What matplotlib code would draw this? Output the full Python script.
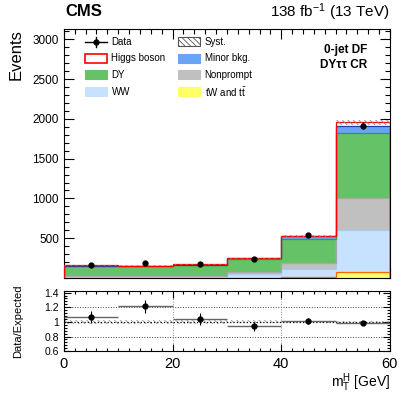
import numpy as np
import matplotlib
matplotlib.use('Agg')
import matplotlib.pyplot as plt
from matplotlib.patches import Rectangle
from matplotlib.ticker import MultipleLocator, FixedLocator

plt.rcParams['font.family'] = ['Liberation Sans', 'DejaVu Sans']
plt.rcParams['mathtext.fontset'] = 'custom'
plt.rcParams['mathtext.rm'] = 'Liberation Sans'
plt.rcParams['mathtext.it'] = 'Liberation Sans:italic'
plt.rcParams['mathtext.bf'] = 'Liberation Sans:bold'
plt.rcParams['hatch.linewidth'] = 0.6

# ---- data ----
bin_edges = [0, 10, 20, 30, 40, 50, 60]
tw_tt     = [3, 3, 4, 6, 15, 72]
ww        = [10, 10, 12, 40, 100, 526]
nonprompt = [8, 8, 8, 30, 80, 411]
dy        = [130, 126, 140, 160, 300, 812]
minor     = [6, 5, 6, 10, 28, 95]
higgs     = [3, 3, 3, 4, 7, 40]
data      = [170, 188, 180, 235, 535, 1915]
syst_frac = [0.025, 0.025, 0.025, 0.02, 0.015, 0.015]

edges = np.array(bin_edges, dtype=float)
centers = 0.5 * (edges[:-1] + edges[1:])
widths = np.diff(edges)

# stack order bottom -> top
stack = [
    (tw_tt,     '#ffff66', '#ff6600'),
    (ww,        '#c6e2ff', '#a8cdf5'),
    (nonprompt, '#c0c0c0', '#a8a8a8'),
    (dy,        '#66c266', '#3a9a3a'),
    (minor,     '#6aa4f5', '#1f3f9f'),
    (higgs,     '#ffffff', '#ff0000'),
]

fig = plt.figure(figsize=(4.07, 3.95), dpi=100)
ax = fig.add_axes([0.157, 0.296, 0.801, 0.631])
axr = fig.add_axes([0.157, 0.111, 0.801, 0.152])

bottom = np.zeros(len(centers))
for vals, fc, ec in stack:
    vals = np.array(vals, dtype=float)
    ax.bar(edges[:-1], vals, width=widths, bottom=bottom, align='edge',
           color=fc, linewidth=0, zorder=2)
    top = bottom + vals
    ax.stairs(top, edges, color=ec, linewidth=0.9, zorder=3)
    bottom = top
total = bottom

# Higgs outline drawn as full box like ROOT
ax.stairs(total, edges, color='#ff0000', linewidth=0.8, zorder=4, alpha=0.3,
          baseline=0)

# syst band
syst = total * np.array(syst_frac)
ax.bar(edges[:-1], 2 * syst, width=widths, bottom=total - syst, align='edge',
       facecolor='none', edgecolor='#888888', hatch='\\\\\\\\\\\\', linewidth=0,
       zorder=5)

data = np.array(data, dtype=float)
ax.errorbar(centers, data, yerr=np.sqrt(data), fmt='o', color='black',
            markersize=3.5, elinewidth=1, capsize=0, zorder=6)

ax.set_xlim(0, 60)
ax.set_ylim(0, 3130)
ax.yaxis.set_major_locator(FixedLocator([500, 1000, 1500, 2000, 2500, 3000]))
ax.yaxis.set_minor_locator(MultipleLocator(100))
ax.xaxis.set_major_locator(MultipleLocator(20))
ax.xaxis.set_minor_locator(MultipleLocator(2))
ax.set_xticklabels([])
ax.tick_params(which='both', direction='in', top=True, right=True, labelsize=8.5)
ax.tick_params(which='major', length=7, width=0.8)
ax.tick_params(which='minor', length=3.5, width=0.8)
ax.set_ylabel('Events', fontsize=12, loc='top', labelpad=4)

# legend, laid out like the ROOT one (two columns, four rows)
leg_rows = [0.948, 0.881, 0.815, 0.748]
leg_cols = [0.064, 0.350]
box_w, box_h = 0.069, 0.036
leg_items = [
    # (col, row, label, kind, facecolor, edgecolor)
    (0, 0, 'Data', 'data', None, None),
    (0, 1, 'Higgs boson', 'box', 'white', '#ff0000'),
    (0, 2, 'DY', 'box', '#66c266', '#66c266'),
    (0, 3, 'WW', 'box', '#c6e2ff', '#c6e2ff'),
    (1, 0, 'Syst.', 'hatch', 'white', '#555555'),
    (1, 1, 'Minor bkg.', 'box', '#6aa4f5', '#6aa4f5'),
    (1, 2, 'Nonprompt', 'box', '#c0c0c0', '#c0c0c0'),
    (1, 3, r'tW and t$\bar{\mathrm{t}}$', 'box', '#ffff66', '#ffff66'),
]
for col, row, lab, kind, fc, ec in leg_items:
    x0 = leg_cols[col]
    yc = leg_rows[row]
    if kind == 'data':
        ax.plot([x0, x0 + box_w], [yc, yc], color='black', lw=1,
                transform=ax.transAxes, zorder=7)
        ax.plot([x0 + box_w / 2] * 2, [yc - 0.02, yc + 0.02], color='black',
                lw=1, transform=ax.transAxes, zorder=7)
        ax.plot([x0 + box_w / 2], [yc], 'o', color='black', markersize=3.5,
                transform=ax.transAxes, zorder=7)
    else:
        lw = 1.2 if lab == 'Higgs boson' else 0.8
        ax.add_patch(Rectangle((x0, yc - box_h / 2), box_w, box_h,
                               transform=ax.transAxes, facecolor=fc,
                               edgecolor=ec, linewidth=lw,
                               hatch='\\\\\\\\\\\\' if kind == 'hatch' else None,
                               zorder=7))
    ax.text(x0 + box_w + 0.013, yc, lab, transform=ax.transAxes, fontsize=7,
            ha='left', va='center', zorder=7)

ax.text(0.93, 0.915, '0-jet DF', transform=ax.transAxes, ha='right',
        va='center', fontsize=8.5, fontweight='bold')
ax.text(0.93, 0.855, 'DY\u03c4\u03c4 CR', transform=ax.transAxes, ha='right',
        va='center', fontsize=8.5, fontweight='bold')

fig.text(0.16, 0.97, 'CMS', fontsize=12, fontweight='bold', ha='left', va='center')
fig.text(0.958, 0.97, r'138 fb$^{-1}$ (13 TeV)', fontsize=11, ha='right', va='center')

# ratio panel
ratio = data / total
ratio_err = np.sqrt(data) / total
axr.bar(edges[:-1], 2 * np.array(syst_frac), width=widths,
        bottom=1 - np.array(syst_frac), align='edge', facecolor='none',
        edgecolor='#999999', hatch='\\\\\\\\\\\\', linewidth=0, zorder=2)
axr.axhline(1.0, color='black', linestyle=':', linewidth=0.9, zorder=3)
for yv in [0.8, 1.2]:
    axr.axhline(yv, color='#444444', linestyle=':', linewidth=0.7, zorder=1)
for xv in [20, 40]:
    axr.axvline(xv, color='#888888', linestyle=':', linewidth=0.7, zorder=1)
axr.errorbar(centers, ratio, xerr=widths / 2, fmt='none', ecolor='#666666',
             elinewidth=1, capsize=0, zorder=4)
axr.errorbar(centers, ratio, yerr=ratio_err, fmt='o', color='black',
             markersize=3.5, elinewidth=0.8, capsize=0, zorder=5)

axr.set_xlim(0, 60)
axr.set_ylim(0.6, 1.42)
axr.yaxis.set_major_locator(FixedLocator([0.6, 0.8, 1.0, 1.2, 1.4]))
axr.set_yticklabels(['0.6', '0.8', '1', '1.2', '1.4'])
axr.yaxis.set_minor_locator(MultipleLocator(0.04))
axr.xaxis.set_major_locator(MultipleLocator(20))
axr.xaxis.set_minor_locator(MultipleLocator(2))
axr.tick_params(which='both', direction='in', top=True, right=True)
axr.tick_params(axis='y', labelsize=7.5)
axr.tick_params(axis='x', labelsize=10.5, pad=4)
axr.tick_params(which='major', length=5, width=0.8)
axr.tick_params(which='minor', length=2.5, width=0.8)
axr.set_ylabel('Data/Expected', fontsize=8, labelpad=6)
axr.yaxis.set_label_coords(-0.125, 0.5)
ax.yaxis.set_label_coords(-0.125, 1.0)

fig.text(0.958, 1 - 383 / 395, r'm$_{\mathrm{T}}^{\mathrm{H}}$ [GeV]', fontsize=10,
         ha='right', va='center')

fig.savefig('out.png', dpi=100)
